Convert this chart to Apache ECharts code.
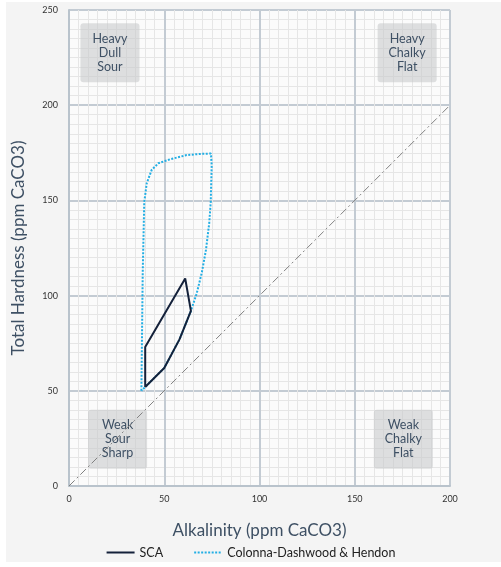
<!DOCTYPE html>
<html>
<head>
<meta charset="utf-8">
<script src="https://cdn.jsdelivr.net/npm/echarts@6/dist/echarts.min.js"></script>
<style>
  html, body { margin: 0; padding: 0; background: #fff; }
  #container { width: 501px; height: 567px; }
</style>
</head>
<body>
<div id="container"></div>
<script>
// polygon outlines, [alkalinity, hardness]
const scaZone = [[40, 52], [50, 62], [58, 77], [64, 92], [61, 109], [40, 73], [40, 52]];
const colonnaZone = [
  [38, 50], [38.7, 112], [39.5, 149], [40.8, 159], [43.4, 166], [46.9, 169.5],
  [53, 171.6], [61.8, 173.8], [68.8, 174.4], [74.5, 174.6], [74.9, 168.6],
  [74.4, 149], [73.6, 138], [71.9, 124], [69.7, 112], [67, 101], [64, 92],
  [58, 77], [50, 62], [40, 52], [38, 50]
];
const diagonal = [[0, 0], [200, 200]];

const xTicks = [0, 50, 100, 150, 200];
const yTicks = [0, 50, 100, 150, 200, 250];

// quadrant notes: [x0, y0, x1, y1] corners in data units
const quadrantNames = ['Heavy\nDull\nSour', 'Heavy\nChalky\nFlat', 'Weak\nSour\nSharp', 'Weak\nChalky\nFlat'];
const quadrantBoxes = [[6, 212, 37, 243], [162, 212, 193, 243], [10, 9, 41, 40], [160, 9, 191, 40]];

const font = 'Lato';
const slate = '#3e5064';

let dom = document.getElementById('container');
let myChart = echarts.init(dom, null, { renderer: 'canvas' });

let option = {
  animation: false,
  textStyle: { fontFamily: font },
  graphic: [
    { type: 'rect', z: -10, shape: { x: 6, y: 2, width: 495, height: 560 }, style: { fill: '#f4f4f4' } },
    { type: 'rect', z: -9, shape: { x: 69, y: 10, width: 381, height: 476 }, style: { fill: '#fbfbfb' } }
  ],
  grid: { left: 69, right: 51, top: 10, bottom: 81 },
  legend: {
    bottom: 3,
    left: 'center',
    itemWidth: 28,
    itemHeight: 10,
    itemGap: 30,
    itemStyle: { opacity: 0 },
    textStyle: { color: '#222', fontSize: 12.5, fontFamily: font },
    data: ['SCA', 'Colonna-Dashwood & Hendon']
  },
  xAxis: {
    type: 'value',
    min: xTicks[0],
    max: xTicks[xTicks.length - 1],
    interval: 50,
    name: 'Alkalinity (ppm CaCO3)',
    nameLocation: 'middle',
    nameGap: 36,
    nameTextStyle: { color: slate, fontSize: 17, fontFamily: font },
    axisLine: { lineStyle: { color: '#b9c3cc', width: 2 } },
    axisTick: { show: false },
    axisLabel: { color: '#333', fontSize: 9, margin: 9 },
    splitLine: { lineStyle: { color: '#c3cbd3', width: 2 } },
    minorTick: { show: false, splitNumber: 10 },
    minorSplitLine: { show: true, lineStyle: { color: '#e6e6e6', width: 1 } }
  },
  yAxis: {
    type: 'value',
    min: yTicks[0],
    max: yTicks[yTicks.length - 1],
    interval: 50,
    name: 'Total Hardness (ppm CaCO3)',
    nameLocation: 'middle',
    nameGap: 42,
    nameTextStyle: { color: slate, fontSize: 17, fontFamily: font },
    axisLine: { show: true, lineStyle: { color: '#b9c3cc', width: 2 } },
    axisTick: { show: false },
    axisLabel: { color: '#333', fontSize: 9, margin: 11 },
    splitLine: { lineStyle: { color: '#c3cbd3', width: 2 } },
    minorTick: { show: false, splitNumber: 10 },
    minorSplitLine: { show: true, lineStyle: { color: '#e6e6e6', width: 1 } }
  },
  series: [
    {
      type: 'custom',
      silent: true,
      z: 1,
      data: quadrantBoxes.map((b, i) => [b[0], b[1], b[2], b[3], i]),
      renderItem: (params, api) => {
        const p0 = api.coord([api.value(0), api.value(3)]);
        const p1 = api.coord([api.value(2), api.value(1)]);
        const name = quadrantNames[api.value(4)];
        return {
          type: 'group',
          children: [
            {
              type: 'rect',
              shape: { x: p0[0], y: p0[1], width: p1[0] - p0[0], height: p1[1] - p0[1], r: 3 },
              style: { fill: 'rgba(196,198,201,0.55)' }
            },
            {
              type: 'text',
              style: {
                x: (p0[0] + p1[0]) / 2,
                y: (p0[1] + p1[1]) / 2,
                text: name,
                align: 'center',
                verticalAlign: 'middle',
                fill: slate,
                font: '12.5px ' + font,
                lineHeight: 14
              }
            }
          ]
        };
      }
    },
    {
      type: 'line',
      data: diagonal,
      symbol: 'none',
      silent: true,
      z: 2,
      lineStyle: { color: '#808080', width: 1, type: [8, 3, 2, 3] }
    },
    {
      name: 'Colonna-Dashwood & Hendon',
      type: 'line',
      data: colonnaZone,
      symbol: 'none',
      z: 3,
      color: '#22aee4',
      lineStyle: { color: '#22aee4', width: 2, type: [2, 1.5] }
    },
    {
      name: 'SCA',
      type: 'line',
      data: scaZone,
      symbol: 'none',
      z: 4,
      color: '#14213a',
      lineStyle: { color: '#14213a', width: 2 }
    }
  ]
};

if (option && typeof option === 'object') {
  myChart.setOption(option);
}

window.addEventListener('resize', myChart.resize);
</script>
</body>
</html>
